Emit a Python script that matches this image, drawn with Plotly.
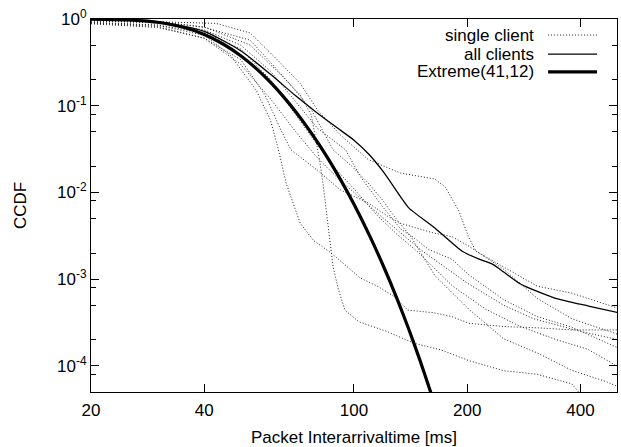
import plotly.graph_objects as go

# ---------------- data ----------------
x_extreme = [20, 25, 30, 35, 40, 45, 50, 55, 60, 65, 70, 75, 80, 85, 90, 95, 100,
             110, 120, 130, 140, 150, 160, 165]
y_extreme = [0.9968, 0.9775, 0.918, 0.8077, 0.6628, 0.5115, 0.3765, 0.2676, 0.1856,
             0.1266, 0.0853, 0.0571, 0.0380, 0.02524, 0.01671, 0.01105, 0.0073,
             0.003178, 0.001382, 0.000601, 0.000261, 0.0001135, 4.93e-5, 3.25e-5]

x_all = [20, 30, 40, 50, 60, 70, 80, 90, 100, 110, 120, 133, 140, 164, 194, 215,
         234, 250, 277, 340, 420, 505]
y_all = [0.99, 0.93, 0.72, 0.43, 0.23, 0.13, 0.082, 0.056, 0.040, 0.027, 0.017,
         0.0089, 0.0066, 0.0039, 0.0021, 0.0017, 0.00148, 0.00121, 0.00088,
         0.00061, 0.00049, 0.00041]

s1_x = [20, 30, 43, 53, 62.5, 72, 80, 92, 109, 133, 164, 175, 190, 202, 211, 250, 307, 379, 505]
s1_y = [0.95, 0.93, 0.89, 0.69, 0.34, 0.18, 0.089, 0.046, 0.024, 0.0167, 0.0143, 0.0115,
        0.0061, 0.0030, 0.0021, 0.00138, 0.00083, 0.00069, 0.00046]

s2_x = [20, 30, 40, 53, 64, 72, 77, 79.4, 81, 82.7, 86, 88, 91, 94.6, 103, 113, 123,
        144, 171, 202, 250, 307, 379, 394, 405]
s2_y = [0.97, 0.93, 0.81, 0.5, 0.226, 0.133, 0.078, 0.040, 0.0236, 0.0128, 0.0034,
        0.00139, 0.00075, 0.00044, 0.000323, 0.000283, 0.000247, 0.000183, 0.000152,
        0.000115, 8.8e-5, 8.0e-5, 6.2e-5, 5.1e-5, 4e-5]

s3_x = [20, 30, 40, 47, 55, 60, 63, 66, 72, 78, 87, 96, 104, 116, 128, 139, 163, 182,
        202, 250, 307, 379, 505]
s3_y = [0.92, 0.85, 0.65, 0.38, 0.15, 0.068, 0.031, 0.0128, 0.0044, 0.0028, 0.0020,
        0.00138, 0.00103, 0.00082, 0.00063, 0.00044, 0.00041, 0.00037, 0.00031,
        0.000284, 0.000275, 0.00026, 0.00026]

s4_x = [20, 30, 40, 50, 58, 64, 68, 80, 92, 109, 123, 133, 163, 182, 202, 250, 307, 379, 505]
s4_y = [0.9, 0.82, 0.6, 0.34, 0.133, 0.052, 0.031, 0.018, 0.0107, 0.0076, 0.0053,
        0.0044, 0.0034, 0.0031, 0.0024, 0.0013, 0.0006, 0.00035, 0.00023]

s5_x = [20, 30, 40, 53, 66, 77, 88, 99, 109, 119, 128, 139, 158, 182, 202, 250, 307, 379, 505]
s5_y = [0.97, 0.94, 0.8, 0.57, 0.2, 0.09, 0.031, 0.0198, 0.0129, 0.0082, 0.0053,
        0.0034, 0.0022, 0.0017, 0.00112, 0.00058, 0.00037, 0.00028, 0.00016]

s6_x = [20, 30, 40, 50, 60, 70, 80, 95, 104, 119, 133, 141, 164, 202, 250, 307, 379, 467, 511]
s6_y = [0.95, 0.9, 0.75, 0.5, 0.25, 0.11, 0.055, 0.031, 0.0152, 0.0069, 0.0038,
        0.0032, 0.0011, 0.00045, 0.000205, 0.000141, 8.9e-5, 6.6e-5, 5.6e-5]

s7_x = [20, 30, 40, 50, 60, 70, 80, 90, 100, 115, 130, 148, 183, 224, 277, 341, 419, 484, 511]
s7_y = [0.9, 0.85, 0.7, 0.45, 0.2, 0.08, 0.035, 0.018, 0.011, 0.0055, 0.0033, 0.00205,
        0.00083, 0.00045, 0.000284, 0.000204, 0.000155, 0.000108, 9.3e-5]

s8_x = [20, 30, 40, 50, 60, 70, 80, 90, 100, 120, 150, 200, 250, 300, 400, 505]
s8_y = [0.88, 0.8, 0.6, 0.3, 0.12, 0.05, 0.025, 0.015, 0.01, 0.005, 0.0022, 0.0009,
        0.0005, 0.00035, 0.00025, 0.0002]

single_clients = [(s1_x, s1_y), (s2_x, s2_y), (s3_x, s3_y), (s4_x, s4_y),
                  (s5_x, s5_y), (s6_x, s6_y), (s7_x, s7_y), (s8_x, s8_y)]

x_tick_vals = [20, 40, 100, 200, 400]
x_tick_text = ["20", "40", "100", "200", "400"]
y_tick_vals = [1, 0.1, 0.01, 0.001, 0.0001]
y_tick_text = ["10<sup>0</sup>", "10<sup>-1</sup>", "10<sup>-2</sup>", "10<sup>-3</sup>", "10<sup>-4</sup>"]
y_minor_vals = [0.5, 0.2, 0.08, 0.05, 0.02, 0.008, 0.005, 0.002, 8e-4, 5e-4, 2e-4, 8e-5]

legend_labels = ["single client", "all clients", "Extreme(41,12)"]

# ---------------- figure ----------------
FONT = "Liberation Sans, Arial, Helvetica, sans-serif"
DOT = dict(color="#222222", width=1, dash="1px,2px")
fig = go.Figure()

for sx, sy in single_clients:
    fig.add_trace(go.Scatter(x=sx, y=sy, mode="lines", name=legend_labels[0],
                             line=DOT, showlegend=False, hoverinfo="skip"))

fig.add_trace(go.Scatter(x=x_all, y=y_all, mode="lines", name=legend_labels[1],
                         line=dict(color="black", width=1.3, shape="spline", smoothing=0.6),
                         showlegend=False))
fig.add_trace(go.Scatter(x=x_extreme, y=y_extreme, mode="lines", name=legend_labels[2],
                         line=dict(color="black", width=3.2, shape="spline", smoothing=0.6),
                         showlegend=False))

# gnuplot-style legend: text right-aligned, sample to the right
leg_y = [0.957, 0.906, 0.858]
leg_styles = [DOT, dict(color="black", width=1.3), dict(color="black", width=3.2)]
for lbl, yy, st in zip(legend_labels, leg_y, leg_styles):
    fig.add_annotation(x=0.846, y=yy, xref="paper", yref="paper", text=lbl,
                       showarrow=False, xanchor="right", yanchor="middle",
                       font=dict(family=FONT, size=17, color="black"))
    fig.add_shape(type="line", xref="paper", yref="paper", x0=0.869, x1=0.962,
                  y0=yy, y1=yy, line=st)

fig.update_xaxes(type="log", range=[1.30103, 2.699], tickvals=x_tick_vals,
                 ticktext=x_tick_text, ticks="inside", ticklen=8, tickcolor="black",
                 showline=True, linecolor="black", linewidth=1, mirror="ticks",
                 showgrid=False, zeroline=False, ticklabelstandoff=3,
                 tickfont=dict(family=FONT, size=17, color="black"),
                 title=dict(text="Packet Interarrivaltime [ms]",
                            font=dict(family=FONT, size=17, color="black"), standoff=12))
fig.update_yaxes(type="log", range=[-4.301, 0], tickvals=y_tick_vals,
                 ticktext=y_tick_text, ticks="inside", ticklen=8, tickcolor="black",
                 showline=True, linecolor="black", linewidth=1, mirror="ticks",
                 showgrid=False, zeroline=False,
                 minor=dict(tickvals=y_minor_vals, ticks="inside", ticklen=5,
                            tickcolor="black", showgrid=False),
                 tickfont=dict(family=FONT, size=17, color="black"),
                 title=dict(text="CCDF", font=dict(family=FONT, size=17, color="black"),
                            standoff=26))

fig.update_layout(width=621, height=447, margin=dict(l=91, r=4, t=19, b=55),
                  paper_bgcolor="white", plot_bgcolor="white", showlegend=False)

fig.write_html("out.html")
